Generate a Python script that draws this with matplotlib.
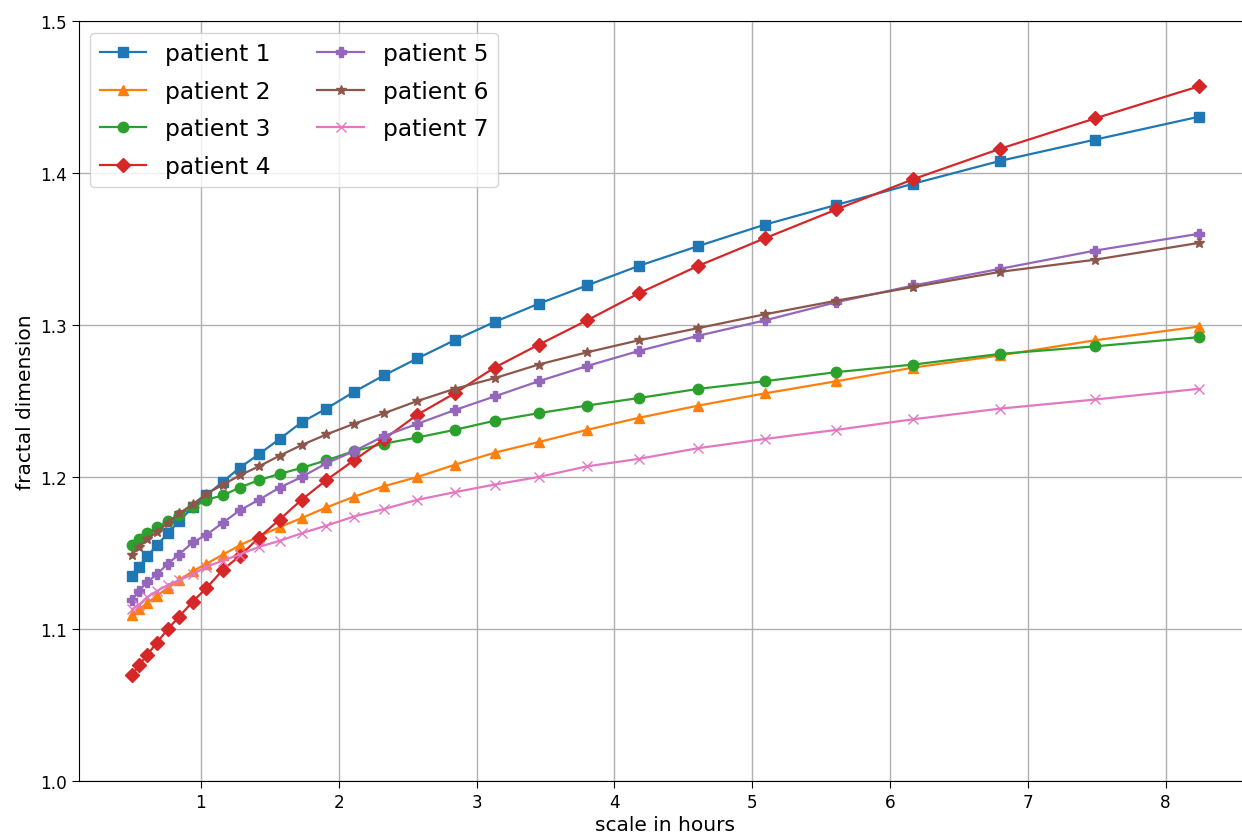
import matplotlib
matplotlib.use("Agg")
import matplotlib.pyplot as plt

# scale (hours) shared by all patients
scale_hours = [0.50, 0.55, 0.61, 0.68, 0.76, 0.84, 0.94, 1.04, 1.16, 1.28,
               1.42, 1.57, 1.73, 1.91, 2.11, 2.33, 2.57, 2.84, 3.13, 3.45,
               3.80, 4.18, 4.61, 5.09, 5.61, 6.17, 6.80, 7.49, 8.24]

patient_1 = [1.135, 1.141, 1.148, 1.155, 1.163, 1.171, 1.180, 1.188, 1.197, 1.206,
             1.215, 1.225, 1.236, 1.245, 1.256, 1.267, 1.278, 1.290, 1.302, 1.314,
             1.326, 1.339, 1.352, 1.366, 1.379, 1.393, 1.408, 1.422, 1.437]
patient_2 = [1.109, 1.113, 1.117, 1.122, 1.127, 1.132, 1.138, 1.143, 1.149, 1.155,
             1.161, 1.167, 1.173, 1.180, 1.187, 1.194, 1.200, 1.208, 1.216, 1.223,
             1.231, 1.239, 1.247, 1.255, 1.263, 1.272, 1.280, 1.290, 1.299]
patient_3 = [1.155, 1.159, 1.163, 1.167, 1.171, 1.175, 1.180, 1.185, 1.188, 1.193,
             1.198, 1.202, 1.206, 1.211, 1.217, 1.222, 1.226, 1.231, 1.237, 1.242,
             1.247, 1.252, 1.258, 1.263, 1.269, 1.274, 1.281, 1.286, 1.292]
patient_4 = [1.070, 1.076, 1.083, 1.091, 1.100, 1.108, 1.118, 1.127, 1.139, 1.148,
             1.160, 1.172, 1.185, 1.198, 1.211, 1.225, 1.241, 1.255, 1.272, 1.287,
             1.303, 1.321, 1.339, 1.357, 1.376, 1.396, 1.416, 1.436, 1.457]
patient_5 = [1.119, 1.125, 1.131, 1.136, 1.143, 1.149, 1.157, 1.162, 1.170, 1.178,
             1.185, 1.193, 1.200, 1.209, 1.217, 1.227, 1.235, 1.244, 1.253, 1.263,
             1.273, 1.283, 1.293, 1.303, 1.315, 1.326, 1.337, 1.349, 1.360]
patient_6 = [1.149, 1.154, 1.159, 1.164, 1.170, 1.176, 1.182, 1.189, 1.195, 1.201,
             1.207, 1.214, 1.221, 1.228, 1.235, 1.242, 1.250, 1.258, 1.265, 1.274,
             1.282, 1.290, 1.298, 1.307, 1.316, 1.325, 1.335, 1.343, 1.354]
patient_7 = [1.113, 1.116, 1.121, 1.125, 1.129, 1.132, 1.136, 1.141, 1.145, 1.149,
             1.154, 1.158, 1.163, 1.168, 1.174, 1.179, 1.185, 1.190, 1.195, 1.200,
             1.207, 1.212, 1.219, 1.225, 1.231, 1.238, 1.245, 1.251, 1.258]

series = [patient_1, patient_2, patient_3, patient_4, patient_5, patient_6, patient_7]
labels = ["patient 1", "patient 2", "patient 3", "patient 4",
          "patient 5", "patient 6", "patient 7"]
markers = ["s", "^", "o", "D", "P", "*", "x"]

fig = plt.figure(figsize=(12.42, 8.37), dpi=100)
# axes run slightly past the right edge, as in the cropped original
ax = fig.add_axes([0.0634, 0.0657, 0.9447, 0.908])

for ys, lab, m in zip(series, labels, markers):
    ax.plot(scale_hours, ys, marker=m, label=lab, linewidth=1.6, markersize=7.5)

ax.set_ylim(1.0, 1.5)
ax.set_yticks([1.0, 1.1, 1.2, 1.3, 1.4, 1.5])
ax.set_xticks(range(1, 9))
ax.tick_params(labelsize=12.2, length=5)
ax.grid(True, color="#b0b0b0", linewidth=1.0)
ax.set_xlabel("scale in hours", fontsize=14.5, labelpad=3)
ax.set_ylabel("fractal dimension", fontsize=14.5)
ax.legend(ncol=2, loc="upper left", fontsize=16.8, handlelength=2.0,
          columnspacing=2.0, labelspacing=0.63, borderaxespad=0.5)

plt.savefig("out.png", dpi=100)
print("Saved: out.png")
